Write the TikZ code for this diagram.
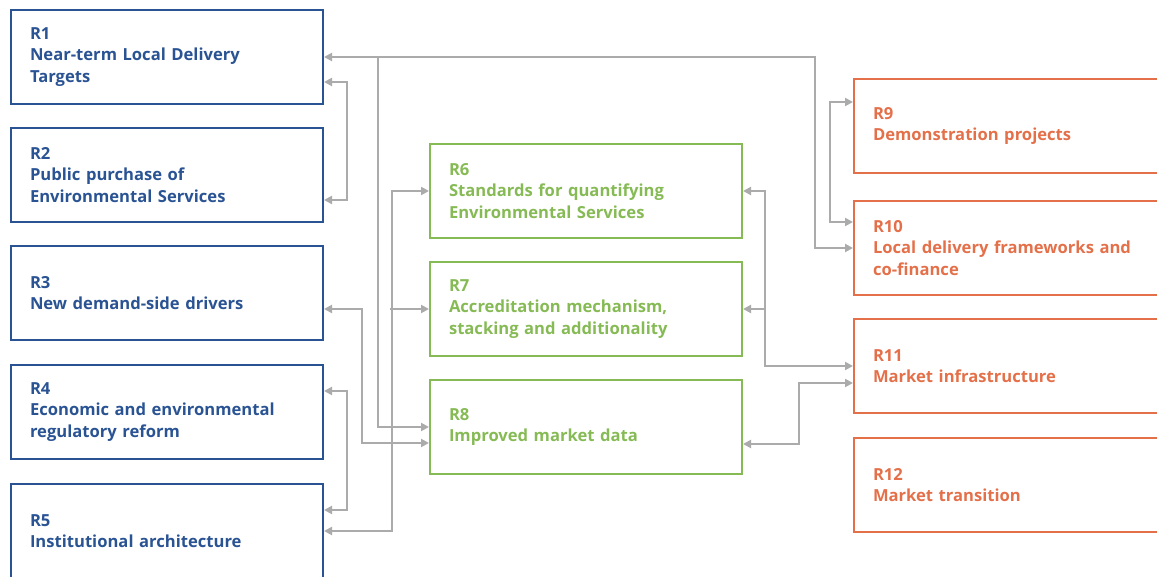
\documentclass[tikz,border=0pt]{standalone}
\usepackage{fontspec}
\setmainfont{Open Sans}
\usetikzlibrary{calc}
\usetikzlibrary{positioning}
\usetikzlibrary{arrows.meta}

\definecolor{rblue}{HTML}{2A5393}
\definecolor{rgreen}{HTML}{86BA55}
\definecolor{rorange}{HTML}{E4704A}
\definecolor{rgray}{HTML}{ABABAB}

\begin{document}
\begin{tikzpicture}[x=1pt,y=-1pt,
    rec/.style={draw,line width=2pt,rectangle,anchor=north west,minimum height=94pt,
      inner xsep=19pt,text width=274pt,align=left,font=\fontsize{16.6}{21.5}\selectfont\bfseries},
    lbox/.style={rec,draw=rblue,text=rblue},
    mbox/.style={rec,draw=rgreen,text=rgreen},
    rbox/.style={rec,draw=rorange,text=rorange,text width=320pt},
    link/.style={draw=rgray,line width=2pt},
    >={Triangle[length=8pt,width=8pt]}]
    \useasboundingbox (0,0) rectangle (1157,577);

    \node[lbox] (r1) at (10,9) {R1\\Near-term Local Delivery\\Targets};
    \node[lbox] (r2) at (10,127) {R2\\Public purchase of\\Environmental Services};
    \node[lbox] (r3) at (10,245) {R3\\New demand-side drivers};
    \node[lbox] (r4) at (10,364) {R4\\Economic and environmental\\regulatory reform};
    \node[lbox] (r5) at (10,483) {R5\\Institutional architecture};

    \node[mbox] (r6) at (429,143) {R6\\Standards for quantifying\\Environmental Services};
    \node[mbox] (r7) at (429,261) {R7\\Accreditation mechanism,\\stacking and additionality};
    \node[mbox] (r8) at (429,379) {R8\\Improved market data};

    \node[rbox] (r9) at (853,78) {R9\\Demonstration projects};
    \node[rbox] (r10) at (853,200) {R10\\Local delivery frameworks and\\co-finance};
    \node[rbox] (r11) at (853,318) {R11\\Market infrastructure};
    \node[rbox] (r12) at (853,437) {R12\\Market transition};

    \draw[link,<->] (r1.east) -- ++(491,0) |- (r10.west);
    \draw[link,->] ($(r1.east)+(54,0)$) |- (r8.west);
    \draw[link,<->] ($(r1.east)+(0,25)$) -- ++(23,0) |- ($(r2.east)+(0,25)$);
    \draw[link,<->] ($(r3.east)+(0,16)$) -- ++(38,0) |- ($(r8.west)+(0,16)$);
    \draw[link,<->] ($(r4.east)+(0,-21)$) -- ++(23,0) |- ($(r5.east)+(0,-21)$);
    \draw[link,<->] (r5.east) -- ++(68,0) |- (r6.west);
    \draw[link,->] ($(r7.west)+(-39,0)$) -- (r7.west);
    \draw[link,<->] ($(r9.west)+(0,-24)$) -- ++(-23,0) |- ($(r10.west)+(0,-26)$);
    \draw[link,<->] (r6.east) -- ++(22,0) |- (r11.west);
    \draw[link,->] ($(r7.east)+(22,0)$) -- (r7.east);
    \draw[link,<->] ($(r8.east)+(0,17)$) -- ++(56,0) |- ($(r11.west)+(0,17)$);
\end{tikzpicture}
\end{document}
